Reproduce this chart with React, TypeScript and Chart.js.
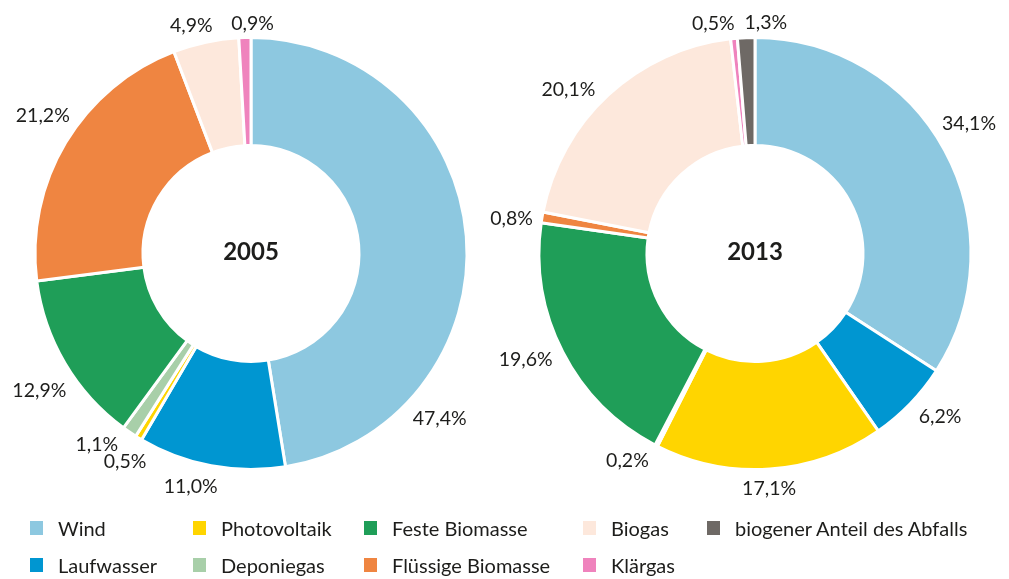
import React, { useEffect, useRef } from "react";
import { Chart, registerables } from "chart.js";

Chart.register(...registerables);

const categories = [
  "Wind",
  "Laufwasser",
  "Photovoltaik",
  "Deponiegas",
  "Feste Biomasse",
  "Flüssige Biomasse",
  "Biogas",
  "Klärgas",
  "biogener Anteil des Abfalls",
];
const colors = [
  "#8dc8e0",
  "#0096d1",
  "#ffd500",
  "#a8cfa9",
  "#1f9e58",
  "#ef8541",
  "#fde8dc",
  "#ef83bd",
  "#6e6965",
];
const years = ["2005", "2013"];
const values2005 = [47.4, 11.0, 0.5, 1.1, 12.9, 21.2, 4.9, 0.9, 0];
const values2013 = [34.1, 6.2, 17.1, 0.2, 19.6, 0.8, 20.1, 0.5, 1.3];
// label angle nudges (degrees) relative to slice middle
const labelShift2005 = [45.5, 4, 0, 5, -2, 3, -2.5, 2, 0];
const labelShift2013 = [-3, -3, 0.5, 4.6, 2.7, -1, -5.7, -4.6, 5];
// legend columns (indices into categories), column-major
const legendColumns = [[0, 1], [2, 3], [4, 5], [6, 7], [8]];

const FONT = "Lato, 'Open Sans', sans-serif";
const TEXT = "#1d1d1b";
const W = 1009;
const H = 579;

const fmt = (v: number) => v.toFixed(1).replace(".", ",") + "%";

const outLabels = {
  id: "outLabels",
  afterDatasetsDraw(chart: any, _args: any, opts: any) {
    const { ctx, chartArea } = chart;
    const meta = chart.getDatasetMeta(0);
    const data = chart.data.datasets[0].data as number[];
    ctx.save();
    ctx.fillStyle = TEXT;
    ctx.textAlign = "center";
    ctx.textBaseline = "middle";
    ctx.font = `${opts.size}px ${FONT}`;
    meta.data.forEach((arc: any, i: number) => {
      const v = data[i];
      if (!v) return;
      const p = arc.getProps(["x", "y", "startAngle", "endAngle", "outerRadius"], true);
      const a = (p.startAngle + p.endAngle) / 2 + (opts.shifts[i] * Math.PI) / 180;
      const txt = fmt(v);
      const w = ctx.measureText(txt).width;
      const c = Math.cos(a);
      const s = Math.sin(a);
      const d = p.outerRadius + opts.gap + (Math.abs(c) * w) / 2 + Math.abs(s) * opts.halfH;
      ctx.fillText(txt, p.x + c * d, p.y + s * d + opts.dy);
    });
    ctx.font = `bold 24px ${FONT}`;
    ctx.fillText(
      opts.title,
      (chartArea.left + chartArea.right) / 2,
      (chartArea.top + chartArea.bottom) / 2 - 1
    );
    ctx.restore();
  },
};

function Donut({
  values,
  shifts,
  title,
  padding,
}: {
  values: number[];
  shifts: number[];
  title: string;
  padding: { left: number; right: number; top: number; bottom: number };
}) {
  const ref = useRef<HTMLCanvasElement | null>(null);
  useEffect(() => {
    if (!ref.current) return;
    const chart = new Chart(ref.current, {
      type: "doughnut",
      data: {
        labels: categories,
        datasets: [
          {
            data: values,
            backgroundColor: colors,
            borderColor: "#ffffff",
            borderWidth: 3,
            hoverOffset: 0,
            offset: 0,
          },
        ],
      },
      options: {
        responsive: false,
        animation: false,
        radius: 216,
        cutout: "50%",
        layout: { padding },
        events: [],
        plugins: {
          legend: { display: false },
          tooltip: { enabled: false },
          outLabels: { shifts, title, size: 19.5, gap: 8, halfH: 8, dy: 2 },
        } as any,
      },
      plugins: [outLabels],
    });
    return () => chart.destroy();
  }, []);
  return (
    <canvas
      ref={ref}
      width={W}
      height={H}
      style={{ position: "absolute", left: 0, top: 0, width: W, height: H }}
    />
  );
}

export default function App() {
  return (
    <div
      style={{
        position: "fixed",
        left: 0,
        top: 0,
        width: W,
        height: H,
        background: "#fff",
        overflow: "hidden",
        fontFamily: FONT,
        color: TEXT,
      }}
    >
      <Donut
        values={values2005}
        shifts={labelShift2005}
        title={years[0]}
        padding={{ left: 0, right: W - 502, top: 0, bottom: H - 507 }}
      />
      <Donut
        values={values2013}
        shifts={labelShift2013}
        title={years[1]}
        padding={{ left: 506, right: W - 1004, top: 0, bottom: H - 507 }}
      />
      <div
        style={{
          position: "absolute",
          left: 30,
          top: 509,
          display: "grid",
          gridTemplateColumns: "163px 171px 219px 124px auto",
          gridTemplateRows: "37px 37px",
          gridAutoFlow: "column",
          fontSize: 20,
          whiteSpace: "nowrap",
        }}
      >
        {legendColumns.map((col, ci) =>
          col.map((idx, ri) => (
            <div
              key={idx}
              style={{
                gridColumn: ci + 1,
                gridRow: ri + 1,
                display: "flex",
                alignItems: "center",
              }}
            >
              <span
                style={{
                  display: "inline-block",
                  width: 13,
                  height: 14,
                  background: colors[idx],
                  marginRight: 15,
                  flex: "none",
                }}
              />
              <span>{categories[idx]}</span>
            </div>
          ))
        )}
      </div>
    </div>
  );
}
